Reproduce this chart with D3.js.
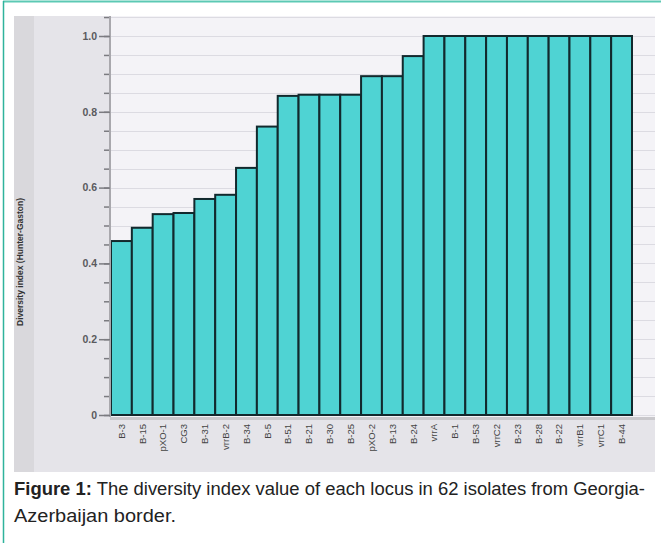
<!DOCTYPE html>
<html>
<head>
<meta charset="utf-8">
<script src="https://cdn.jsdelivr.net/npm/d3@7"></script>
<style>
  body { margin: 0; background: #fff; }
  svg { display: block; font-family: "Liberation Sans", Arial, sans-serif; }
</style>
</head>
<body>
<div class="chart"></div>
<script>
var loci = ["B-3", "B-15", "pXO-1", "CG3", "B-31", "vrrB-2", "B-34", "B-5", "B-51", "B-21",
  "B-30", "B-25", "pXO-2", "B-13", "B-24", "vrrA", "B-1", "B-53", "vrrC2", "B-23",
  "B-28", "B-22", "vrrB1", "vrrC1", "B-44"];
var diversity = [0.459, 0.494, 0.530, 0.533, 0.570, 0.581, 0.652, 0.761, 0.842, 0.845,
  0.845, 0.845, 0.894, 0.894, 0.947, 1.0, 1.0, 1.0, 1.0, 1.0,
  1.0, 1.0, 1.0, 1.0, 1.0];
var majorTicks = [0, 0.2, 0.4, 0.6, 0.8, 1.0];
var minorTicks = d3.range(0, 1.051, 0.05);

var svgWidth = 661, svgHeight = 543;

var svg = d3.select(".chart")
  .append("svg")
  .attr("width", svgWidth)
  .attr("height", svgHeight);

// teal frame (top and left edge only visible)
svg.append("line").attr("x1", 3).attr("x2", svgWidth).attr("y1", 1.5).attr("y2", 1.5)
  .attr("stroke", "#5cc9b4").attr("stroke-width", 2);
svg.append("line").attr("x1", 3.5).attr("x2", 3.5).attr("y1", 1).attr("y2", svgHeight)
  .attr("stroke", "#2fb39c").attr("stroke-width", 1.5);

// grey panel behind the chart
svg.append("rect").attr("x", 14).attr("y", 16).attr("width", 641).attr("height", 456)
  .attr("fill", "#e5e4e9");
svg.append("rect").attr("x", 14).attr("y", 16).attr("width", 20).attr("height", 456)
  .attr("fill", "#d9d8dc");

var plotLeft = 110, plotRight = 655, plotTop = 16;

var x = d3.scaleBand()
  .domain(loci)
  .range([111, 632])
  .padding(0);

var y = d3.scaleLinear()
  .domain([0, 1])
  .range([415, 36]);

// plot background
svg.append("rect").attr("x", plotLeft).attr("y", plotTop)
  .attr("width", plotRight - plotLeft).attr("height", y(0) - plotTop + 3)
  .attr("fill", "#f4f3f7");

// gridlines
svg.append("g").selectAll("line")
  .data(minorTicks)
  .enter()
  .append("line")
  .attr("x1", plotLeft).attr("x2", plotRight)
  .attr("y1", d => Math.round(y(d)) + 0.5).attr("y2", d => Math.round(y(d)) + 0.5)
  .attr("stroke", "#dcdbe2").attr("stroke-width", 1);

// bars
svg.append("g").selectAll("rect")
  .data(diversity)
  .enter()
  .append("rect")
  .attr("x", (d, i) => x(loci[i]))
  .attr("y", d => y(d))
  .attr("width", x.bandwidth())
  .attr("height", d => y(0) - y(d))
  .attr("fill", "#4fd3d3")
  .attr("stroke", "#12292d")
  .attr("stroke-width", 2);

// x baseline band
svg.append("rect").attr("x", plotLeft).attr("y", y(0) + 2).attr("width", plotRight - plotLeft)
  .attr("height", 3).attr("fill", "#c9c8cc");

// y axis with major and minor ticks
var leftAxis = d3.axisLeft(y).tickValues(majorTicks)
  .tickFormat(d => d === 0 ? "0" : d3.format(".1f")(d))
  .tickSize(11).tickPadding(2);
var minorAxis = d3.axisLeft(y).tickValues(minorTicks).tickFormat("").tickSize(6);

var yMinor = svg.append("g").attr("transform", `translate(${plotLeft},0)`).call(minorAxis);
yMinor.select(".domain").remove();
yMinor.selectAll("line").attr("stroke", "#7b7b80").attr("stroke-width", 1.5);

var yAxis = svg.append("g").attr("transform", `translate(${plotLeft},0)`).call(leftAxis);
yAxis.select(".domain").attr("d", `M0,${plotTop}V${y(0) + 2}`).attr("stroke", "#a9a8ad").attr("stroke-width", 2);
yAxis.selectAll(".tick line").attr("stroke", "#7b7b80").attr("stroke-width", 1.5);
yAxis.selectAll("text").attr("fill", "#5a5a5e").attr("font-size", 10.5).attr("font-weight", "bold")
  .attr("font-family", "'Liberation Sans', Arial, sans-serif");

// x axis labels
var bottomAxis = d3.axisBottom(x).tickSize(0).tickPadding(0);
var xAxis = svg.append("g").attr("transform", `translate(0,${y(0) + 9})`).call(bottomAxis);
xAxis.select(".domain").remove();
xAxis.selectAll("text")
  .attr("transform", "rotate(-90)")
  .attr("text-anchor", "end")
  .attr("x", 0).attr("y", 0).attr("dy", "0.35em")
  .attr("fill", "#444").attr("font-size", 9.5)
  .attr("font-family", "'Liberation Sans', Arial, sans-serif");

// y axis title
svg.append("text")
  .attr("transform", `translate(23, 262) rotate(-90)`)
  .attr("text-anchor", "middle")
  .attr("font-size", 8.5)
  .attr("font-weight", "bold")
  .attr("fill", "#333")
  .text("Diversity index (Hunter-Gaston)");

// caption
var caption = svg.append("text")
  .attr("x", 14).attr("y", 495)
  .attr("font-size", 17.5)
  .attr("fill", "#222")
  .attr("textLength", 631)
  .attr("lengthAdjust", "spacingAndGlyphs");
caption.append("tspan").attr("font-weight", "bold").text("Figure 1:");
caption.append("tspan").text(" The diversity index value of each locus in 62 isolates from Georgia-");
svg.append("text")
  .attr("x", 14).attr("y", 522)
  .attr("font-size", 17.5)
  .attr("fill", "#222")
  .attr("textLength", 162)
  .attr("lengthAdjust", "spacingAndGlyphs")
  .text("Azerbaijan border.");
</script>
</body>
</html>
